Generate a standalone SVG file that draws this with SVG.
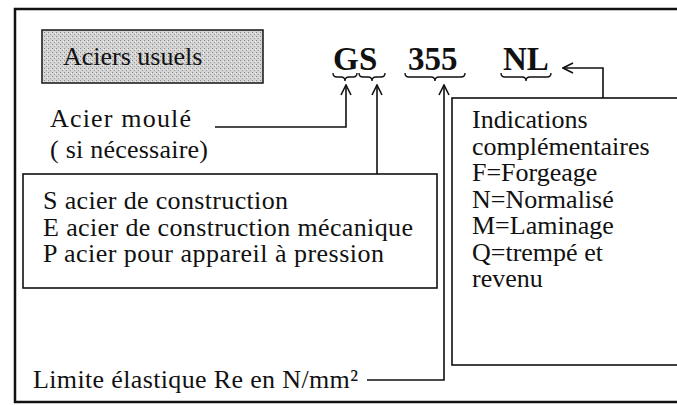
<svg xmlns="http://www.w3.org/2000/svg" width="677" height="405" viewBox="0 0 677 405">
<style>
.t{font-family:'Liberation Serif','Times New Roman',Times,'DejaVu Serif',serif;font-size:26px;fill:#111}
.b{font-family:'Liberation Serif','Times New Roman',Times,'DejaVu Serif',serif;font-size:33px;font-weight:bold;fill:#111}
.ln{fill:none;stroke:#111;stroke-width:1.6}
.br{fill:none;stroke:#111;stroke-width:1.4}
.box{fill:#fff;stroke:#111;stroke-width:1.6}
</style>
<defs>
<pattern id="dots" width="4" height="4" patternUnits="userSpaceOnUse">
<rect width="4" height="4" fill="#d4d4d4"/>
<rect x="0" y="0" width="1" height="1" fill="#888"/>
<rect x="2" y="2" width="1" height="1" fill="#999"/>
<rect x="3" y="1" width="1" height="1" fill="#f0f0f0"/>
</pattern>
<marker id="ah" viewBox="0 0 12 12" refX="11" refY="6" markerWidth="12" markerHeight="12" markerUnits="userSpaceOnUse" orient="auto">
<path d="M1,1 L11,6 L1,11" fill="none" stroke="#111" stroke-width="1.6"/>
</marker>
</defs>
<rect x="15" y="9" width="700" height="393" fill="#fff" stroke="#111" stroke-width="2.5"/>
<g id="titre">
<rect x="42" y="30" width="221" height="53" fill="url(#dots)" stroke="#222" stroke-width="1.6"/>
<text class="t" x="63" y="65">Aciers usuels</text>
</g>
<g id="designation">
<text class="b" x="333" y="70">G</text>
<text class="b" x="359" y="70">S</text>
<text class="b" x="408" y="70">355</text>
<text class="b" x="503" y="70">NL</text>
<path class="br" d="M333,73 q0,4 4,4 h4 q4,0 4,4 q0,-4 4,-4 h4 q4,0 4,-4"/>
<path class="br" d="M359,73 q0,4 4,4 h5 q4,0 4,4 q0,-4 4,-4 h5 q4,0 4,-4"/>
<path class="br" d="M405,73 q0,4 4,4 h22 q4,0 4,4 q0,-4 4,-4 h22 q4,0 4,-4"/>
<path class="br" d="M501,73 q0,4 4,4 h17 q4,0 4,4 q0,-4 4,-4 h17 q4,0 4,-4"/>
</g>
<g id="moule">
<text class="t"><tspan x="50" y="127" textLength="141">Acier moulé</tspan><tspan x="50" y="158" textLength="158">( si nécessaire)</tspan></text>
</g>
<g id="type-acier">
<rect class="box" x="23" y="174" width="414" height="114"/>
<text class="t"><tspan x="43" y="209" textLength="245">S acier de construction</tspan><tspan x="43" y="235.5" textLength="370">E acier de construction mécanique</tspan><tspan x="43" y="262" textLength="341">P acier pour appareil à pression</tspan></text>
</g>
<g id="indications">
<rect class="box" x="452" y="98" width="300" height="267"/>
<text class="t"><tspan x="472" y="128">Indications</tspan><tspan x="472" y="154.5">complémentaires</tspan><tspan x="472" y="181">F=Forgeage</tspan><tspan x="472" y="207.5">N=Normalisé</tspan><tspan x="472" y="234">M=Laminage</tspan><tspan x="472" y="260.5">Q=trempé et</tspan><tspan x="472" y="287">revenu</tspan></text>
</g>
<g id="limite">
<text class="t" x="33" y="388" textLength="325">Limite élastique Re en N/mm²</text>
</g>
<g id="connecteurs">
<path class="ln" d="M215,127 H346 V85" marker-end="url(#ah)"/>
<path class="ln" d="M377,174 V85" marker-end="url(#ah)"/>
<path class="ln" d="M367,380 H444 V85" marker-end="url(#ah)"/>
<path class="ln" d="M603,98 V68 H563" marker-end="url(#ah)"/>
</g>
</svg>
